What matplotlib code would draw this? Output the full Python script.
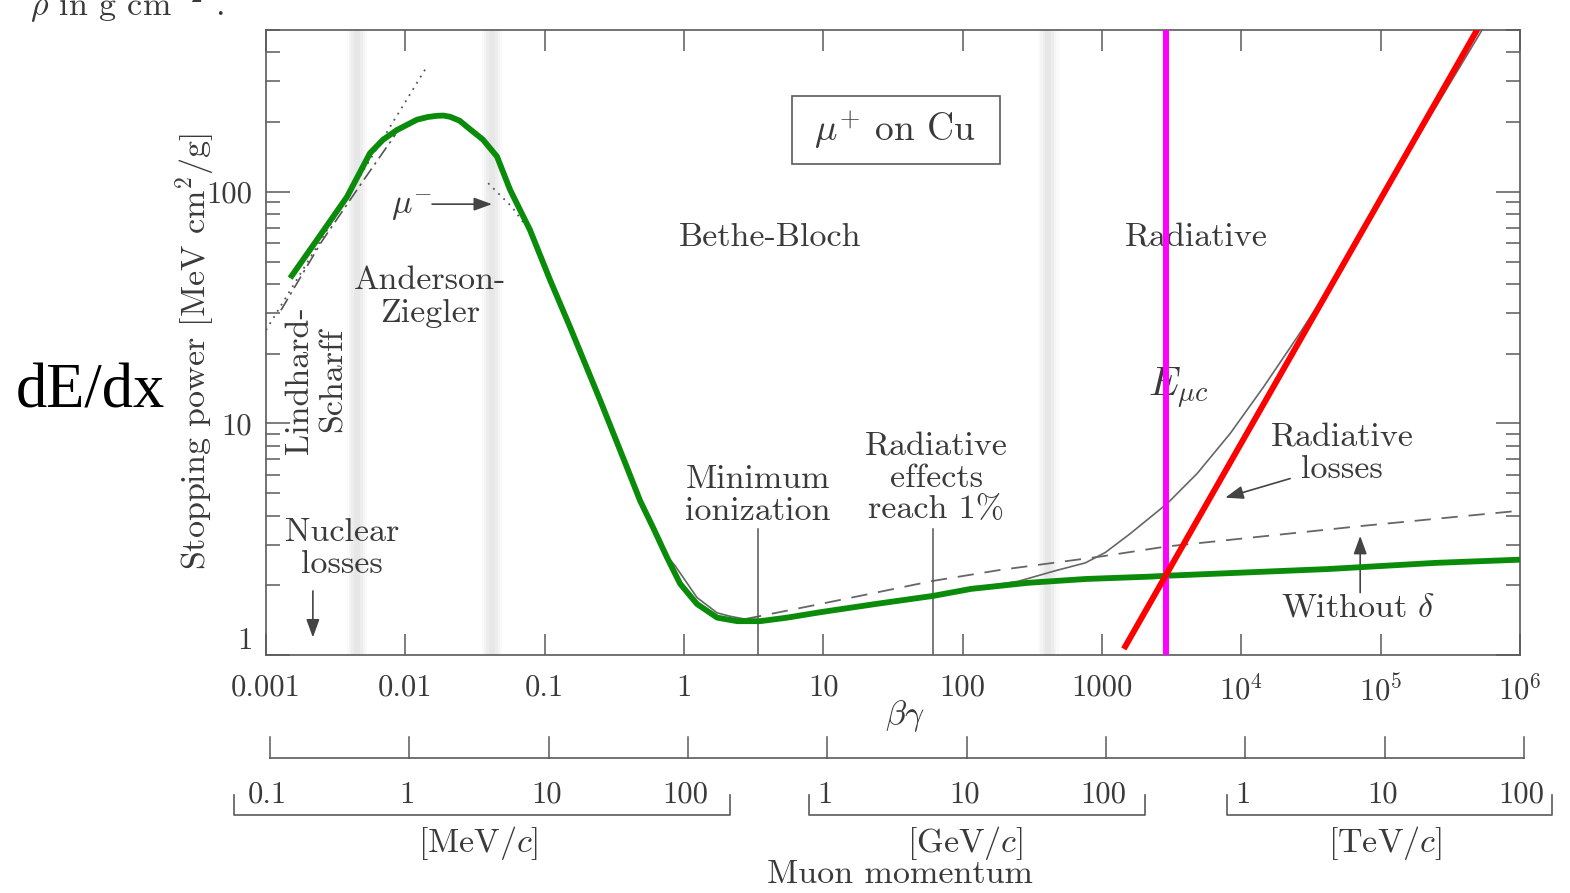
import matplotlib
matplotlib.use("Agg")
import matplotlib.pyplot as plt
from matplotlib.patches import Rectangle

plt.rcParams["font.family"] = ["cmr10", "DejaVu Serif"]
plt.rcParams["mathtext.fontset"] = "cm"
plt.rcParams["axes.formatter.use_mathtext"] = True

# ---------------- data ----------------
# mu+ on Cu, stopping power (thick green curve)
bg_green = [0.00149, 0.00232, 0.00381, 0.00558, 0.00692, 0.00871, 0.01213, 0.0145,
            0.0169, 0.0188, 0.02094, 0.0245, 0.0277, 0.0361, 0.0455, 0.0565, 0.0785,
            0.1094, 0.152, 0.250, 0.384, 0.484, 0.600, 0.757, 0.938, 1.24, 1.73,
            2.41, 3.52, 5.50, 9.49, 23.6, 61.4, 115, 295, 771, 2220, 2940, 41400,
            251000, 1.0e6]
dedx_green = [42.4, 62.0, 95.1, 147, 168, 185, 205, 210.5, 213, 213.5, 211, 203,
              191, 168, 142, 102, 68.4, 41.6, 26.1, 12.6, 6.6, 4.64, 3.55, 2.63,
              2.03, 1.66, 1.45, 1.40, 1.40, 1.45, 1.53, 1.66, 1.80, 1.93, 2.05,
              2.13, 2.18, 2.20, 2.35, 2.50, 2.58]

# total stopping power including radiative losses (thin solid)
bg_total = [0.30, 0.50, 0.60, 0.757, 0.863, 1.24, 1.73, 2.14, 2.9, 3.8, 9.49, 23.6,
            61.4, 115, 250, 461, 760, 1055, 1592, 2940, 4820, 8320, 14350, 25200,
            38700, 100000, 536000]
dedx_total = [9.57, 4.46, 3.55, 2.66, 2.43, 1.77, 1.52, 1.47, 1.42, 1.41, 1.53,
              1.66, 1.81, 1.94, 2.08, 2.31, 2.50, 2.77, 3.34, 4.51, 6.08, 9.05,
              14.3, 23.6, 35.1, 93.5, 502]

# ionization without density-effect correction (dashed)
bg_nodelta = [2.75, 9.49, 61.4, 186, 970, 2890, 73800, 1.0e6]
dedx_nodelta = [1.43, 1.66, 2.09, 2.33, 2.66, 2.94, 3.61, 4.20]

# Lindhard-Scharff low-energy extrapolation (dotted)
bg_lindhard = [0.001, 0.0143]
dedx_lindhard = [25.3, 348]

# Anderson-Ziegler fit (dash-dot)
bg_az = [0.00128, 0.0025, 0.005, 0.0085]
dedx_az = [30.8, 60.8, 112, 177]

# mu- branch (dotted)
bg_mum = [0.0393, 0.0583, 0.070]
dedx_mum = [109, 86, 74]

# radiative losses (red straight line)
bg_rad = [1470, 485000]
dedx_rad = [1.09, 493]

# muon critical energy in units of beta*gamma
bg_emuc = 2890

# reference markers
bg_min_ion = 3.4
bg_rad_1pct = 61

# shaded region boundaries
band_centers = [0.0045, 0.0419, 411]

# axis ticks
bg_ticks = [1e-3, 1e-2, 1e-1, 1, 10, 100, 1000, 1e4, 1e5, 1e6]
bg_tick_labels = ["0.001", "0.01", "0.1", "1", "10", "100", "1000",
                  r"$10^4$", r"$10^5$", r"$10^6$"]
dedx_ticks = [1, 10, 100]
dedx_tick_labels = ["1", "10", "100"]

# muon momentum scale (MeV/c)
p_ticks = [0.1, 1, 10, 100, 1e3, 1e4, 1e5, 1e6, 1e7, 1e8]
p_tick_labels = ["0.1", "1", "10", "100", "1", "10", "100", "1", "10", "100"]
p_brackets = [(0.055, 200), (740, 1.91e5), (7.4e5, 1.6e8)]
p_units = [(3.1, r"[MeV/$c$]"), (9750, r"[GeV/$c$]"), (1.01e7, r"[TeV/$c$]")]
MEV_PER_BG = 93.6

# ---------------- figure ----------------
W, H = 1570, 893
fig = plt.figure(figsize=(W / 100, H / 100), dpi=100)
fig.patch.set_facecolor("white")

TXT = "#3a3a3a"
LINE = "#5a5a5a"
FS = 24.5
LS = 1.1

ax = fig.add_axes([266 / W, 1 - 655 / H, 1254 / W, 625 / H])
ax.set_xscale("log")
ax.set_yscale("log")
ax.set_xlim(1e-3, 1e6)
ax.set_ylim(1, 500)

for s in ax.spines.values():
    s.set_color(LINE)
    s.set_linewidth(1.2)

ax.set_xticks(bg_ticks, labels=bg_tick_labels)
ax.xaxis.set_minor_locator(matplotlib.ticker.NullLocator())
ax.set_yticks(dedx_ticks, labels=dedx_tick_labels)
ax.yaxis.set_minor_locator(matplotlib.ticker.LogLocator(base=10, subs=range(2, 10)))
ax.yaxis.set_minor_formatter(matplotlib.ticker.NullFormatter())
ax.tick_params(which="both", direction="in", top=True, right=True,
               color=LINE, width=1.1, labelcolor=TXT)
ax.tick_params(axis="x", which="major", length=15, pad=14, labelsize=22)
ax.tick_params(axis="y", which="major", length=17, pad=10, labelsize=22)
ax.tick_params(axis="y", which="minor", length=10)
for lab in ax.get_yticklabels():
    if lab.get_text() == "1":
        lab.set_va("bottom")

# shaded regime boundaries with soft edges
for c in band_centers:
    for hw, a in [(0.075, 0.04), (0.058, 0.05), (0.04, 0.06), (0.022, 0.06)]:
        ax.axvspan(c * 10 ** -hw, c * 10 ** hw, color="#8a8a8a", alpha=a,
                   lw=0, zorder=0)

# thin reference curves
ax.plot(bg_lindhard, dedx_lindhard, color="#555", lw=1.3, ls=(0, (1, 3)), zorder=2)
ax.plot(bg_az, dedx_az, color="#555", lw=1.2, ls=(0, (8, 3, 1.5, 3)), zorder=2)
ax.plot(bg_mum, dedx_mum, color="#555", lw=1.3, ls=(0, (1, 3)), zorder=2)
ax.plot(bg_nodelta, dedx_nodelta, color="#666", lw=1.3, ls=(0, (9, 6)), zorder=2)
ax.plot(bg_total, dedx_total, color="#666", lw=1.2, zorder=2)

# vertical markers
ax.plot([bg_min_ion, bg_min_ion], [1, 3.51], color="#555", lw=1.1, zorder=2)
ax.plot([bg_rad_1pct, bg_rad_1pct], [1, 3.51], color="#555", lw=1.1, zorder=2)

# highlighted curves
ax.plot(bg_green, dedx_green, color="#0a8c0a", lw=4.2, solid_capstyle="butt",
        solid_joinstyle="round", zorder=4)
ax.axvline(bg_emuc, color="#ff00ff", lw=4.3, zorder=5)
ax.plot(bg_rad, dedx_rad, color="#ff0000", lw=4.3, zorder=6)

# labels in the plot
tk = dict(color=TXT, fontsize=FS, ha="center", va="center", zorder=3)
ax.text(4.15, 63.5, "Bethe-Bloch", **tk)
ax.text(4740, 63.5, "Radiative", **tk)
ax.text(0.01503, 35.1, "Anderson-\nZiegler", linespacing=1.18, **tk)
ax.text(0.00229, 15.4, "Lindhard-\nScharff", rotation=90, linespacing=1.18, **tk)
ax.text(0.00351, 2.88, "Nuclear\nlosses", linespacing=LS, **tk)
ax.text(3.40, 4.88, "Minimum\nionization", linespacing=LS, **tk)
ax.text(64.6, 5.78, "Radiative\neffects\nreach 1%", linespacing=LS, **tk)
ax.text(3520, 14.2, r"$E_{\mu c}$", color=TXT, fontsize=29, ha="center",
        va="center", zorder=3)
ax.text(53000, 7.42, "Radiative\nlosses", linespacing=LS, **tk)
ax.text(69000, 1.60, r"Without $\delta$", **tk)
ax.text(0.01117, 85.3, r"$\mu^{-}$", **tk)
ax.text(32.7, 185, r"$\mu^{+}$ on Cu", color=TXT, fontsize=27, ha="center",
        va="center", zorder=3)
ax.add_patch(Rectangle((0.4195, 0.7856), 0.1658, 0.1088, transform=ax.transAxes,
                       fill=False, ec=LINE, lw=1.2, zorder=3))

ap = dict(arrowstyle="-|>,head_length=0.55,head_width=0.2", color="#444",
          lw=1.2, shrinkA=0, shrinkB=0, mutation_scale=20)
ax.annotate("", xy=(0.00217, 1.19), xytext=(0.00217, 1.89), arrowprops=ap)
ax.annotate("", xy=(0.0419, 88.5), xytext=(0.01556, 88.5), arrowprops=ap)
ax.annotate("", xy=(7660, 4.78), xytext=(22400, 5.78), arrowprops=ap)
ax.annotate("", xy=(71300, 3.27), xytext=(71300, 1.86), arrowprops=ap)

# axis titles
fig.text(195 / W, 1 - 352 / H, r"Stopping power [MeV cm$^2$/g]", rotation=90,
         color=TXT, fontsize=FS, ha="center", va="center")
fig.text(905 / W, 1 - 716 / H, r"$\beta\gamma$", color=TXT, fontsize=FS,
         ha="center", va="center")
fig.text(900 / W, 1 - 874 / H, "Muon momentum", color=TXT, fontsize=FS,
         ha="center", va="center")
fig.text(90 / W, 1 - 393 / H, "dE/dx", color="black", fontsize=45,
         family="Liberation Serif", ha="center", va="center")
fig.text(30 / W, 1 - 15 / H, r"$\rho$ in g cm$^{-2}$ .", color=TXT, fontsize=FS,
         ha="left", va="baseline")

# muon momentum scale below the plot (y in pixel rows)
axp = fig.add_axes([266 / W, 0, 1254 / W, 203 / H])
axp.set_xscale("log")
axp.set_xlim(1e-3 * MEV_PER_BG, 1e6 * MEV_PER_BG)
axp.set_ylim(893, 690)
axp.axis("off")
axp.plot([p_ticks[0], p_ticks[-1]], [758, 758], color=LINE, lw=1.2, clip_on=False)
for p, lab in zip(p_ticks, p_tick_labels):
    axp.plot([p, p], [737, 758], color=LINE, lw=1.1, clip_on=False)
    axp.text(p * 0.96, 795, lab, color=TXT, fontsize=22, ha="center", va="center")
for lo, hi in p_brackets:
    axp.plot([lo, lo, hi, hi], [795, 815, 815, 795], color=LINE, lw=1.2,
             clip_on=False)
for p, lab in p_units:
    axp.text(p, 843, lab, color=TXT, fontsize=FS, ha="center", va="center")

fig.savefig("out.png", dpi=100, facecolor="white")
